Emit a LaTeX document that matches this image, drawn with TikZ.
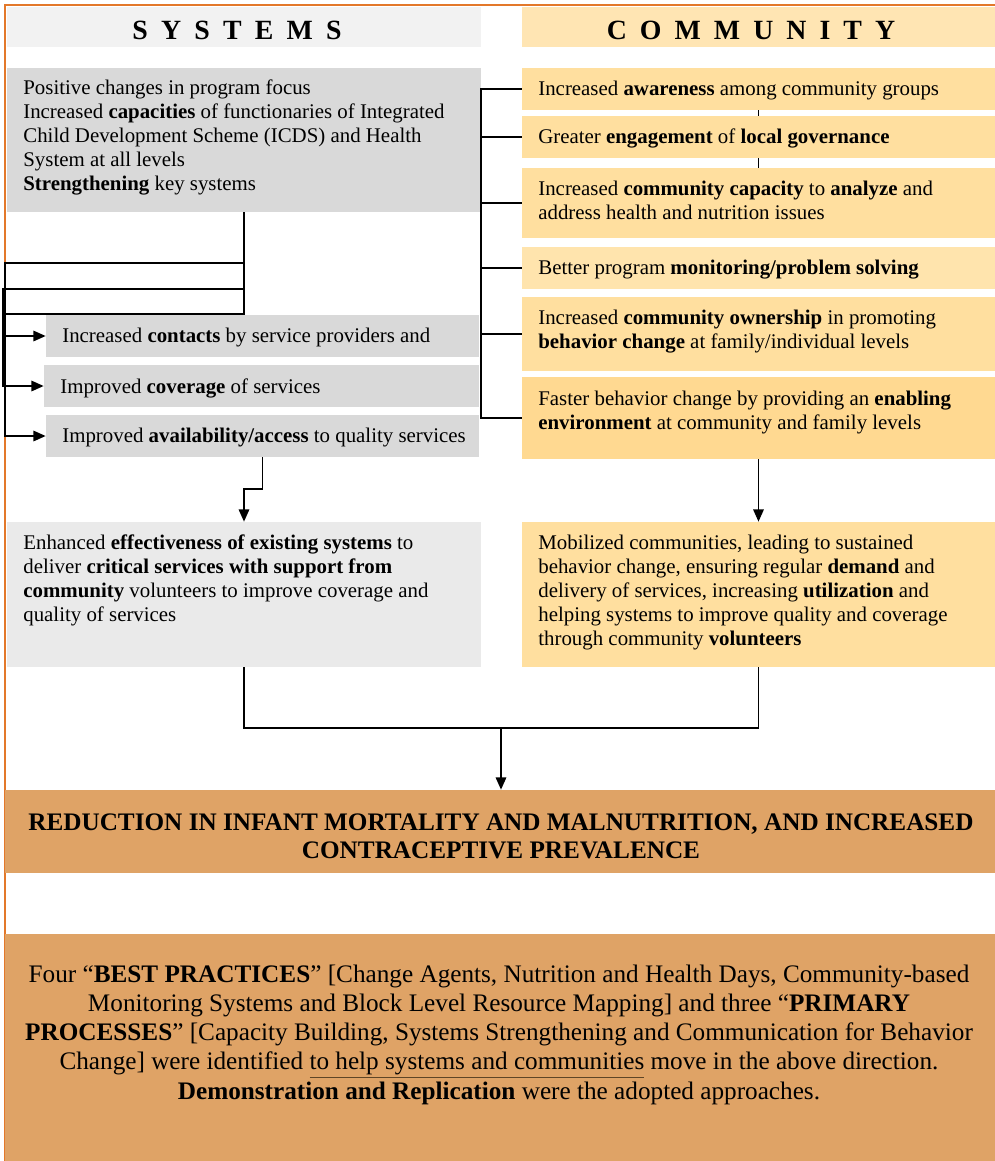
\documentclass[tikz,border=0pt]{standalone}
\usepackage{fontspec}
\setmainfont{Liberation Serif}
\usetikzlibrary{arrows.meta,fit}
\definecolor{bordorange}{HTML}{E3782A}
\definecolor{hdrgray}{HTML}{F2F2F2}
\definecolor{boxgray}{HTML}{D9D9D9}
\definecolor{lightgray}{HTML}{EAEAEA}
\definecolor{hdrpeach}{HTML}{FFE5B3}
\definecolor{peach}{HTML}{FFDF9F}
\definecolor{peachlight}{HTML}{FFE4AD}
\definecolor{peachdark}{HTML}{FFD991}
\definecolor{outorange}{HTML}{DFA366}
\definecolor{ulbrown}{HTML}{5E4526}
\begin{document}
\begin{tikzpicture}[x=0.575pt,y=-0.575pt,
  box/.style={inner sep=0pt, draw=none},
  txt/.style={inner sep=0pt, align=left, font=\fontsize{12pt}{13.8pt}\selectfont},
  hdr/.style={inner sep=0pt, font=\fontsize{16pt}{18pt}\selectfont\bfseries},
  conn/.style={line width=0.9pt, draw=black},
  arr/.style={conn, -{Triangle[length=7pt,width=6pt]}},
  thin/.style={line width=0.6pt, draw=black}]
\useasboundingbox (0,0) rectangle (995,1161);
% border
\draw[bordorange, line width=0.9pt] (5,1161) -- (5,5) -- (995,5);
% headers
\node[box, fill=hdrgray, fit={(7,7) (481,47)}] (s0) {};
\node[box, fill=hdrpeach, fit={(522,7) (995,47)}] (c0) {};
\node[hdr] (ts0) at (237,30) {S\hspace{7.6pt}Y\hspace{7.6pt}S\hspace{7.6pt}T\hspace{7.6pt}E\hspace{7.6pt}M\hspace{7.6pt}S};
\node[hdr] (tc0) at (751,30) {C\hspace{7.5pt}O\hspace{7.5pt}M\hspace{7.5pt}M\hspace{7.5pt}U\hspace{7.5pt}N\hspace{7.5pt}I\hspace{7.5pt}T\hspace{7.5pt}Y};
% systems boxes
\node[box, fill=boxgray, fit={(7,68) (481,212)}] (s1) {};
\node[box, fill=boxgray, fit={(46,315) (479,357)}] (s2) {};
\node[box, fill=boxgray, fit={(44,365) (479,407)}] (s3) {};
\node[box, fill=boxgray, fit={(46,415) (479,457)}] (s4) {};
\node[box, fill=lightgray, fit={(7,522) (481,667)}] (s5) {};
% community boxes
\node[box, fill=peach, fit={(522,68) (995,110)}] (c1) {};
\node[box, fill=peach, fit={(522,116) (995,158)}] (c2) {};
\node[box, fill=peach, fit={(522,168) (995,238)}] (c3) {};
\node[box, fill=peachlight, fit={(522,247) (995,289)}] (c4) {};
\node[box, fill=peach, fit={(522,297) (995,371)}] (c5) {};
\node[box, fill=peachdark, fit={(522,377) (995,459)}] (c6) {};
\node[box, fill=peach, fit={(522,522) (995,667)}] (c7) {};
% outcome boxes
\node[box, fill=outorange, fit={(5,790) (995,873)}] (red) {};
\node[box, fill=outorange, fit={(5,934) (995,1161)}] (bp) {};
% texts (anchor = baseline of the last line)
\node[txt, anchor=base west] (ts1) at (23,190) {Positive changes in program focus\\
Increased \textbf{capacities} of functionaries of Integrated\\
Child Development Scheme (ICDS) and Health\\
System at all levels\\
\textbf{Strengthening} key systems};
\node[txt, anchor=base west] (ts2) at (62,342) {Increased \textbf{contacts} by service providers and};
\node[txt, anchor=base west] (ts3) at (60,393) {Improved \textbf{coverage} of services};
\node[txt, anchor=base west] (ts4) at (62,442) {Improved \textbf{availability/access} to quality services};
\node[txt, anchor=base west] (ts5) at (23,621) {Enhanced \textbf{effectiveness of existing systems} to\\
deliver \textbf{critical services with support from}\\
\textbf{community} volunteers to improve coverage and\\
quality of services};
\node[txt, anchor=base west] (tc1) at (538,95) {Increased \textbf{awareness} among community groups};
\node[txt, anchor=base west] (tc2) at (538,143) {Greater \textbf{engagement} of \textbf{local governance}};
\node[txt, anchor=base west] (tc3) at (538,219) {Increased \textbf{community capacity} to \textbf{analyze} and\\
address health and nutrition issues};
\node[txt, anchor=base west] (tc4) at (538,274) {Better program \textbf{monitoring/problem solving}};
\node[txt, anchor=base west] (tc5) at (538,348) {Increased \textbf{community ownership} in promoting\\
\textbf{behavior change} at family/individual levels};
\node[txt, anchor=base west] (tc6) at (538,429) {Faster behavior change by providing an \textbf{enabling}\\
\textbf{environment} at community and family levels};
\node[txt, anchor=base west] (tc7) at (538,645) {Mobilized communities, leading to sustained\\
behavior change, ensuring regular \textbf{demand} and\\
delivery of services, increasing \textbf{utilization} and\\
helping systems to improve quality and coverage\\
through community \textbf{volunteers}};
\node[inner sep=0pt, align=center, anchor=base, font=\fontsize{14.5pt}{16.1pt}\selectfont\bfseries] (tred) at (501,858)
 {REDUCTION IN INFANT MORTALITY AND MALNUTRITION, AND INCREASED\\ CONTRACEPTIVE PREVALENCE};
\node[inner sep=0pt, align=center, anchor=base, font=\fontsize{14.5pt}{16.8pt}\selectfont] (tbp) at (499,1099)
 {Four “\textbf{BEST PRACTICES}” [Change Agents, Nutrition and Health Days, Community-based\\
 Monitoring Systems and Block Level Resource Mapping] and three “\textbf{PRIMARY}\\
 \textbf{PROCESSES}” [Capacity Building, Systems Strengthening and Communication for Behavior\\
 Change] were identified \textcolor{ulbrown}{\underline{\textcolor{black}{to help systems and communities}}} move in the above direction.\\
 \textbf{Demonstration and Replication} were the adopted approaches.};
% junction coordinates
\coordinate (j1) at (5,263);
\coordinate (j2) at (3,289);
\coordinate (j3) at (5,314);
\coordinate (k) at (0,489);
\coordinate (m) at (501,728);
\coordinate (b) at (481,0);
% systems connectors
\draw[arr] (s1.south) |- (j1) |- (s2.west);
\draw[arr] (s1.south) |- (j2) |- (s3.west);
\draw[arr] (s1.south) |- (j3) |- (s4.west);
\draw[arr] (s4.south) -- (s4.south |- k) -| (s5.north);
% community bracket
\draw[conn] (c1.west) -- (b |- c1.west) -- (b |- c6.west) -- (c6.west);
\draw[conn] (c2.west) -- (b |- c2.west);
\draw[conn] (c3.west) -- (b |- c3.west);
\draw[conn] (c4.west) -- (b |- c4.west);
\draw[conn] (c5.west) -- (b |- c5.west);
\draw[thin] (c1.south) -- (c2.north);
\draw[thin] (c2.south) -- (c3.north);
\draw[arr] (c6.south) -- (c7.north);
% merge
\draw[conn] (s5.south) |- (m) -| (c7.south);
\draw[arr] (m) -- (m |- red.north);
\end{tikzpicture}
\end{document}
